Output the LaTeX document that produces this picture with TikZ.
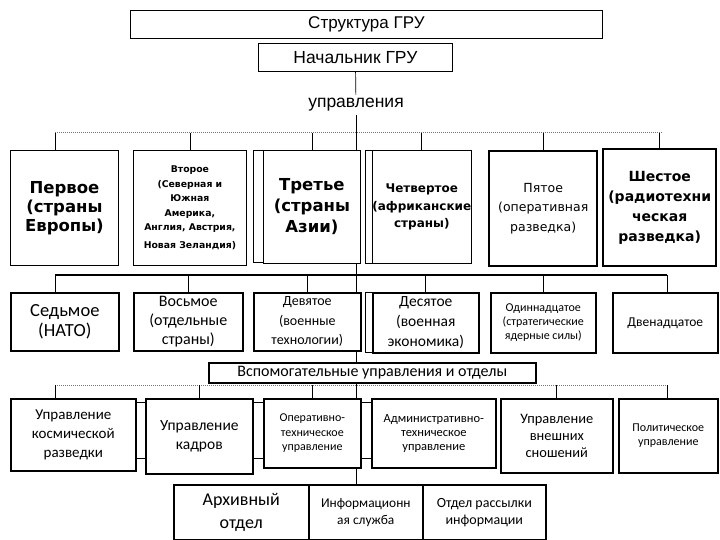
\documentclass[tikz,border=0pt]{standalone}
\usepackage{fontspec}
\setmainfont{Liberation Sans}
\newfontfamily\dvs{DejaVu Sans}
\newfontfamily\clb{Carlito}
\usetikzlibrary{backgrounds}
\newcommand{\fz}[2]{\fontsize{#1}{#2}\selectfont}
\tikzset{
  box/.style={draw, fill=white, line width=0.8pt, align=center, anchor=north west, inner sep=0pt},
  fatbox/.style={box, line width=1.6pt},
  heavybox/.style={box, line width=2.4pt},
  bus/.style={draw=black!55, densely dotted, line width=1pt},
  fatbus/.style={line width=1.8pt},
  link/.style={line width=0.7pt},
}

\begin{document}
\begin{tikzpicture}[x=1pt, y=-1pt]
  \useasboundingbox (0,0) rectangle (720,540);

  % head
  \node[box, minimum width=472pt, minimum height=28pt, font=\fz{17}{19}] (title) at (130,10) {Структура ГРУ};
  \node[box, minimum width=194pt, minimum height=28pt, font=\fz{17.5}{19}] (chief) at (258,43) {Начальник ГРУ};
  \node[font=\fz{17.5}{19}] (upr) at (356,105) {управления};

  % first row
  \node[box, minimum width=108pt, minimum height=115pt, font=\dvs\bfseries\fz{16.5}{19}] (d1) at (10,150) {Первое\\(страны\\Европы)};
  \node[box, minimum width=113pt, minimum height=115pt, font=\dvs\bfseries\fz{9.3}{14.5}] (d2) at (133,150) {Второе\\(Северная и\\Южная\\Америка,\\Англия, Австрия,\\[3pt]Новая Зеландия)};
  \node[box, minimum width=97pt, minimum height=112pt] (back3) at (253,150) {};
  \node[box, minimum width=97pt, minimum height=113pt, font=\dvs\bfseries\fz{16.5}{21}] (d3) at (263,150) {Третье\\(страны\\Азии)};
  \node[box, minimum width=95pt, minimum height=113pt] (back4) at (365,150) {};
  \node[box, minimum width=98pt, minimum height=113pt, font=\dvs\bfseries\fz{12}{17.5}] (d4) at (372,150) {Четвертое\\(африканские\\страны)};
  \node[heavybox, minimum width=108pt, minimum height=115pt, font=\dvs\fz{12.5}{19.5}] (d5) at (488,150) {Пятое\\(оперативная\\разведка)};
  \node[heavybox, minimum width=113pt, minimum height=117pt, font=\dvs\bfseries\fz{14}{20}] (d6) at (602,148) {Шестое\\(радиотехни\\ческая\\разведка)};

  % second row
  \node[fatbox, minimum width=108pt, minimum height=58pt, font=\clb\fz{18.5}{20}] (s1) at (10,292) {Седьмое\\(НАТО)};
  \node[fatbox, minimum width=109pt, minimum height=58pt, font=\clb\fz{16}{19}] (s2) at (133,292) {Восьмое\\(отдельные\\страны)};
  \node[fatbox, minimum width=107pt, minimum height=58pt, font=\clb\fz{14}{19.5}] (s3) at (253,292) {Девятое\\(военные\\технологии)};
  \node[box, minimum width=100pt, minimum height=60pt] (back10) at (365,292) {};
  \node[fatbox, minimum width=106pt, minimum height=60pt, font=\clb\fz{15.5}{20}] (s4) at (372,292) {Десятое\\(военная\\экономика)};
  \node[fatbox, minimum width=105pt, minimum height=60pt, font=\clb\fz{12}{14}] (s5) at (490,292) {Одиннадцатое\\(стратегические\\ядерные силы)};
  \node[fatbox, minimum width=105pt, minimum height=60pt, font=\clb\fz{13.5}{16}] (s6) at (612,292) {Двенадцатое};

  \node[fatbox, minimum width=327pt, minimum height=20pt, font=\clb\fz{16}{18}] (aux) at (208,362) {Вспомогательные управления и отделы};

  % third row
  \node[box, minimum width=365pt, minimum height=56pt] (back3row) at (130,402) {};
  \node[fatbox, minimum width=125pt, minimum height=72pt, font=\clb\fz{15}{19}] (a1) at (10,398) {Управление\\космической\\разведки};
  \node[fatbox, minimum width=107pt, minimum height=75pt, font=\clb\fz{15.5}{19}] (a2) at (145,398) {Управление\\кадров};
  \node[fatbox, minimum width=97pt, minimum height=69pt, font=\clb\fz{12}{14.5}] (a3) at (263,398) {Оперативно-\\техническое\\управление};
  \node[fatbox, minimum width=124pt, minimum height=69pt, font=\clb\fz{12.5}{14}] (a4) at (371,398) {Административно-\\техническое\\управление};
  \node[fatbox, minimum width=112pt, minimum height=74pt, font=\clb\fz{14.4}{17}] (a5) at (500,398) {Управление\\внешних\\сношений};
  \node[fatbox, minimum width=99pt, minimum height=74pt, font=\clb\fz{12}{14}] (a6) at (618,398) {Политическое\\управление};

  % fourth row
  \node[fatbox, minimum width=135pt, minimum height=55pt, font=\clb\fz{18}{23}] (a7) at (173,484) {Архивный\\отдел};
  \node[fatbox, minimum width=114pt, minimum height=55pt, font=\clb\fz{13.4}{17}] (a8) at (308,484) {Информационн\\ая служба};
  \node[fatbox, minimum width=123pt, minimum height=55pt, font=\clb\fz{14}{17}] (a9) at (422,484) {Отдел рассылки\\информации};

  % connectors
  \begin{scope}[on background layer]
    \coordinate (t) at (356,133);
    \coordinate (b1w) at (55,133);
    \coordinate (b1e) at (662,133);
    \coordinate (b2w) at (55,275);
    \coordinate (b2e) at (667,275);
    \coordinate (b3w) at (55,385);
    \coordinate (b3e) at (667,385);

    \draw[link] (chief) -- (upr);
    \draw[link] (upr) -- (t);
    \draw[link] (t) -- (t |- aux.north);
    \draw[link] (t |- aux.south) -- (t |- a8.north);

    \draw[bus] (b1w) -- (b1e);
    \draw[link] (b1w) -- (b1w |- d1.north);
    \foreach \n in {d2,d3,d4,d5,d6}
      \draw[link] (\n.north |- b1w) -- (\n.north);

    \draw[fatbus] (b2w) -- (b2e);
    \draw[link] (b2w) -- (b2w |- s1.north);
    \foreach \n in {s2,s3,s4,s5}
      \draw[link] (\n.north |- b2w) -- (\n.north);
    \draw[link] (b2e) -- (b2e |- s6.north);

    \draw[bus] (b3w) -- (b3e);
    \draw[link] (b3w) -- (b3w |- a1.north);
    \foreach \n in {a2,a3,a5}
      \draw[link] (\n.north |- b3w) -- (\n.north);
    \draw[link] (b3e) -- (b3e |- a6.north);
  \end{scope}
\end{tikzpicture}
\end{document}
